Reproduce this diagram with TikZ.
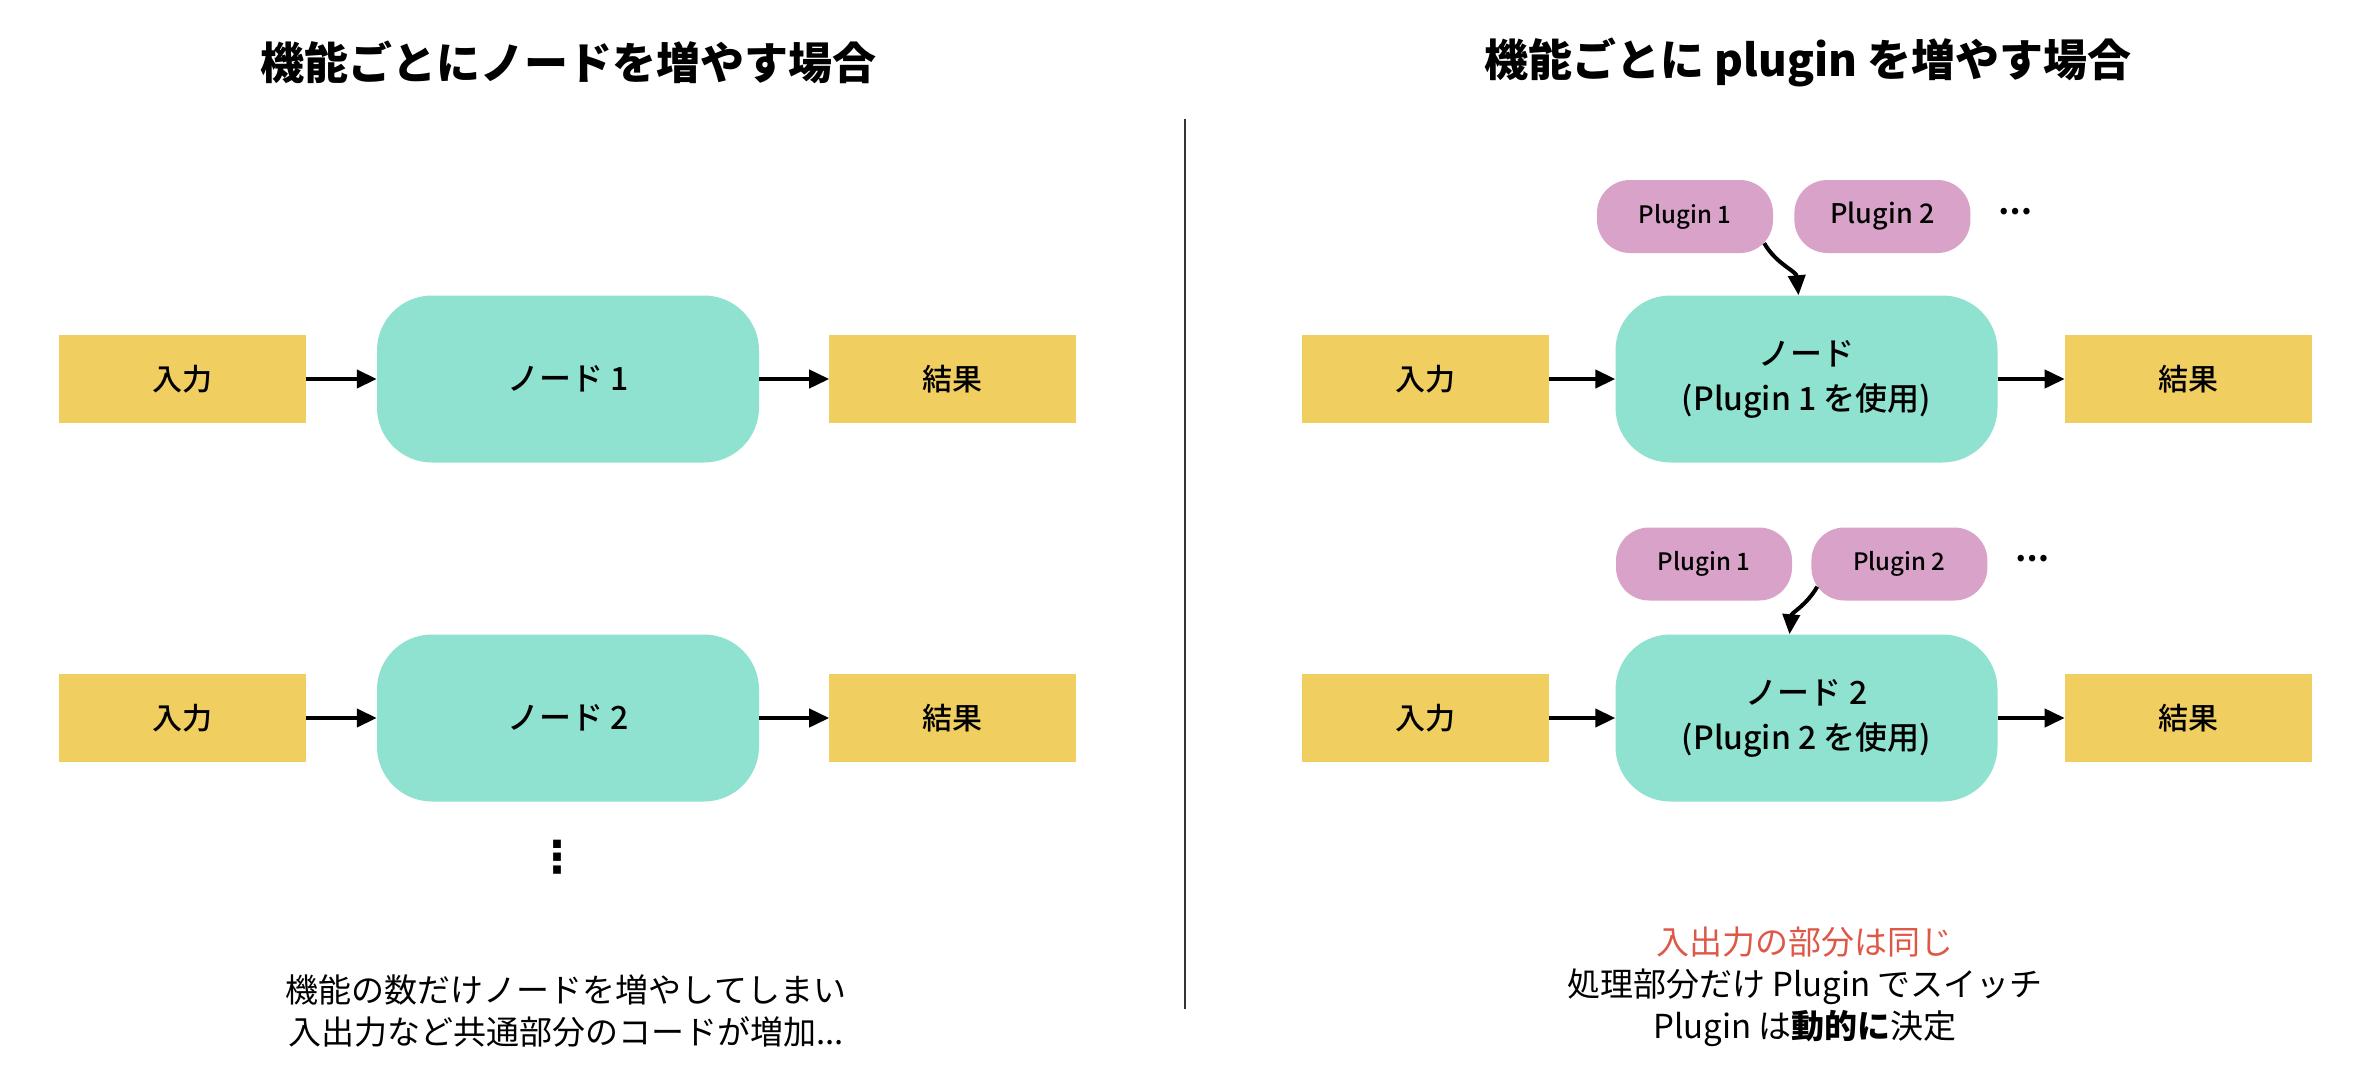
\documentclass[tikz,border=0pt]{standalone}
\usepackage{fontspec}
\setmainfont{Noto Sans CJK JP}
\newfontfamily\medfont{Noto Sans CJK JP Medium}
\newfontfamily\symfont{DejaVu Sans}
\usepackage{tikz}
\usetikzlibrary{positioning,arrows.meta}
\definecolor{ioyellow}{RGB}{240,206,96}
\definecolor{procteal}{RGB}{142,226,207}
\definecolor{plugpink}{RGB}{217,163,201}
\definecolor{notered}{RGB}{222,88,72}
\tikzstyle{title}=[text=black, font=\bfseries\fontsize{44}{52}\selectfont]
\tikzstyle{iobox}=[rectangle, fill=ioyellow, text centered, text=black, minimum width=247pt, minimum height=88pt, font=\medfont\fontsize{30}{36}\selectfont]
\tikzstyle{proc}=[rectangle, rounded corners=55pt, fill=procteal, align=center, text=black, minimum width=382pt, minimum height=167pt, font=\medfont\fontsize{32}{45}\selectfont]
\tikzstyle{plugin}=[rectangle, rounded corners=33pt, fill=plugpink, text centered, text=black, minimum width=176pt, minimum height=73pt, font=\medfont\fontsize{24}{28}\selectfont]
\tikzstyle{note}=[align=center, text=black, font=\fontsize{33}{42}\selectfont]
\tikzstyle{flow}=[-{Triangle[length=20pt,width=18pt]}, line width=4pt]
\tikzstyle{use}=[-{Triangle[length=20pt,width=17pt]}, line width=4pt]

\begin{document}
\begin{tikzpicture}[x=1pt,y=-1pt,node distance=71pt]
    \useasboundingbox (0,0) rectangle (2374,1084);
    % left: one node per function
    \node(titleL)[title] at (568,62) {機能ごとにノードを増やす場合};
    \node(procL1)[proc] at (568,379) {ノード 1};
    \node(inL1)[iobox, left=71pt of procL1] {入力};
    \node(outL1)[iobox, right=70pt of procL1] {結果};
    \node(procL2)[proc] at (568,718) {ノード 2};
    \node(inL2)[iobox, left=71pt of procL2] {入力};
    \node(outL2)[iobox, right=70pt of procL2] {結果};
    \node(vdotsL)[font=\symfont\bfseries\fontsize{44}{44}\selectfont] at (557,857) {⋮};
    \node(noteL)[note] at (566,1011) {機能の数だけノードを増やしてしまい\\入出力など共通部分のコードが増加...};
    \draw[flow] (inL1) -- (procL1);
    \draw[flow] (procL1) -- (outL1);
    \draw[flow] (inL2) -- (procL2);
    \draw[flow] (procL2) -- (outL2);

    % divider
    \coordinate(divtop) at (1185,119);
    \coordinate(divbot) at (1185,1009);
    \draw[line width=2pt, black!80] (divtop) -- (divbot);

    % right: one plugin per function
    \node(titleR)[title] at (1808,62) {機能ごとに plugin を増やす場合};
    \node(procR1)[proc] at (1806.5,379) {ノード\\(Plugin 1 を使用)};
    \node(inR1)[iobox, left=66pt of procR1] {入力};
    \node(outR1)[iobox, right=67pt of procR1] {結果};
    \node(plugA1)[plugin] at (1685,216.5) {Plugin 1};
    \node(plugA2)[plugin, right=21pt of plugA1, font=\medfont\fontsize{27}{30}\selectfont] {Plugin 2};
    \node(dotsA)[font=\bfseries\fontsize{30}{30}\selectfont] at (2015,212) {…};
    \draw[use] ([xshift=-9pt,yshift=10pt]plugA1.south east) to[out=-60,in=95] ([xshift=-8pt]procR1.north);

    \node(procR2)[proc] at (1806.5,718) {ノード 2\\(Plugin 2 を使用)};
    \node(inR2)[iobox, left=66pt of procR2] {入力};
    \node(outR2)[iobox, right=67pt of procR2] {結果};
    \node(plugB1)[plugin] at (1704,564) {Plugin 1};
    \node(plugB2)[plugin, right=19pt of plugB1] {Plugin 2};
    \node(dotsB)[font=\bfseries\fontsize{30}{30}\selectfont] at (2032,559) {…};
    \draw[use] ([xshift=6pt,yshift=14pt]plugB2.south west) to[out=-120,in=85] ([xshift=-17pt]procR2.north);

    \node(noteR)[note] at (1805,987) {\textcolor{notered}{入出力の部分は同じ}\\処理部分だけ Plugin でスイッチ\\Plugin は\textbf{動的に}決定};
    \draw[flow] (inR1) -- (procR1);
    \draw[flow] (procR1) -- (outR1);
    \draw[flow] (inR2) -- (procR2);
    \draw[flow] (procR2) -- (outR2);
\end{tikzpicture}
\end{document}
